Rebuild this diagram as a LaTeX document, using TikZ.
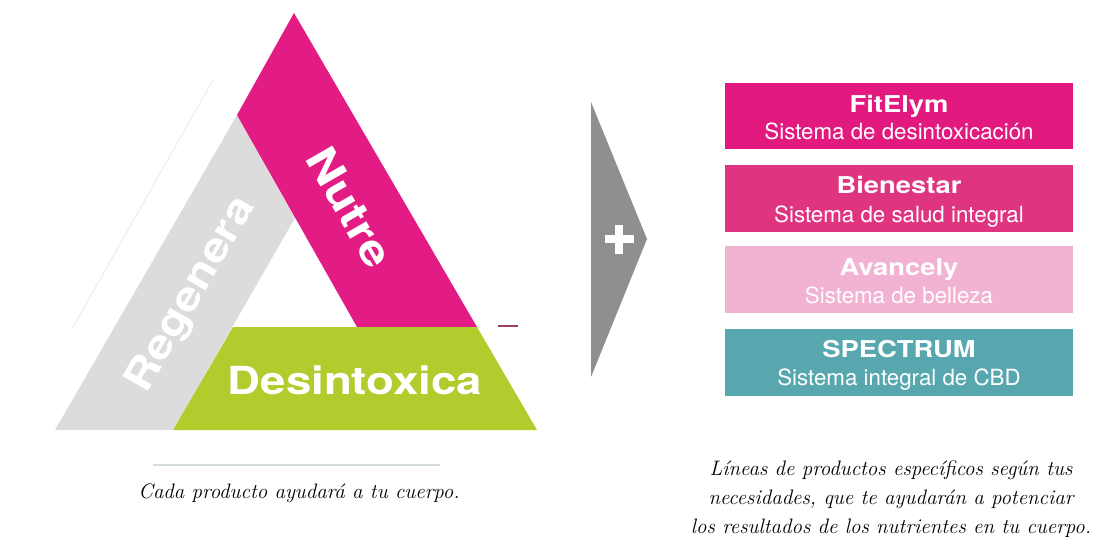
\documentclass[tikz,border=0pt]{standalone}
\usepackage{fontspec}
\newfontfamily\widebold{TeX Gyre Heros Bold}[FakeStretch=1.18]
\newfontfamily\sansreg{TeX Gyre Heros}
\definecolor{tpink}{HTML}{E31B84}
\definecolor{tgrey}{HTML}{DCDCDC}
\definecolor{tgreen}{HTML}{B2CC2E}
\definecolor{agrey}{HTML}{8F8E90}
\definecolor{bone}{HTML}{E2197F}
\definecolor{btwo}{HTML}{DF3580}
\definecolor{bthree}{HTML}{F2B2D1}
\definecolor{bfour}{HTML}{58A7AF}
\definecolor{faint}{HTML}{EDEDED}
\definecolor{faintb}{HTML}{D5DCDC}
\definecolor{dred}{HTML}{A0405E}
\tikzset{
  bandtxt/.style={text=white, inner sep=0pt, font={\widebold\fontsize{#1}{#1}\selectfont}},
  prodbox/.style={draw=none, minimum width=6.96cm, minimum height=1.34cm, inner sep=0pt},
  ptitle/.style={text=white, anchor=base, inner sep=0pt, font={\widebold\fontsize{13.2}{15}\selectfont}},
  psub/.style={text=white, anchor=base, inner sep=0pt, font={\sansreg\fontsize{12.7}{15}\selectfont}},
  caption/.style={anchor=base, inner sep=0pt, font={\itshape\fontsize{11.9}{14}\selectfont}}
}
\begin{document}
\begin{tikzpicture}[x=0.02cm,y=-0.02cm]
\useasboundingbox (0,0) rectangle (1103,552);
% faint artefact lines
\draw[faint, line width=0.6pt] (213,80) -- (73,327);
\draw[faintb, line width=0.8pt] (153,465) -- (440,465);
\draw[dred, line width=0.6pt] (498,326) -- (518,326);
% triangle bands
\fill[tgrey] (237,115) -- (295,218) -- (173,430) -- (55,430) -- cycle;
\fill[tpink] (294,13) -- (477,327) -- (357,327) -- (237,115) -- cycle;
\fill[tgreen] (233,327) -- (477,327) -- (537,430) -- (173,430) -- cycle;
\node[bandtxt=24, rotate=-60] (nutre) at (350,207) {Nutre};
\node[bandtxt=23, rotate=60] (regenera) at (192,295) {Regenera};
\node[bandtxt=22] (desin) at (355,380) {Desintoxica};
% chevron with plus
\fill[agrey] (591,102) -- (647,239) -- (591,377) -- cycle;
\coordinate (pc) at (619,239);
\draw[white, line width=4.6pt] ([xshift=-0.29cm]pc) -- ([xshift=0.29cm]pc);
\draw[white, line width=4.6pt] ([yshift=-0.29cm]pc) -- ([yshift=0.29cm]pc);
% product boxes
\node[prodbox, fill=bone] (b1) at (899,116) {};
\node[prodbox, fill=btwo] (b2) at (899,198) {};
\node[prodbox, fill=bthree] (b3) at (899,279.5) {};
\node[prodbox, fill=bfour] (b4) at (899,362) {};
\node[ptitle] (t1) at (899,112) {FitElym};
\node[psub] (s1) at (899,139) {Sistema de desintoxicación};
\node[ptitle] (t2) at (899,193) {Bienestar};
\node[psub] (s2) at (899,222) {Sistema de salud integral};
\node[ptitle] (t3) at (899,275) {Avancely};
\node[psub] (s3) at (899,303) {Sistema de belleza};
\node[ptitle] (t4) at (899,357) {SPECTRUM};
\node[psub] (s4) at (899,385) {Sistema integral de CBD};
% captions
\node[caption] (capl) at (299,498) {Cada producto ayudará a tu cuerpo.};
\node[caption] (capr1) at (891,475) {Líneas de productos específicos según tus};
\node[caption] (capr2) at (891,504) {necesidades, que te ayudarán a potenciar};
\node[caption] (capr3) at (891,533) {los resultados de los nutrientes en tu cuerpo.};
\end{tikzpicture}
\end{document}
